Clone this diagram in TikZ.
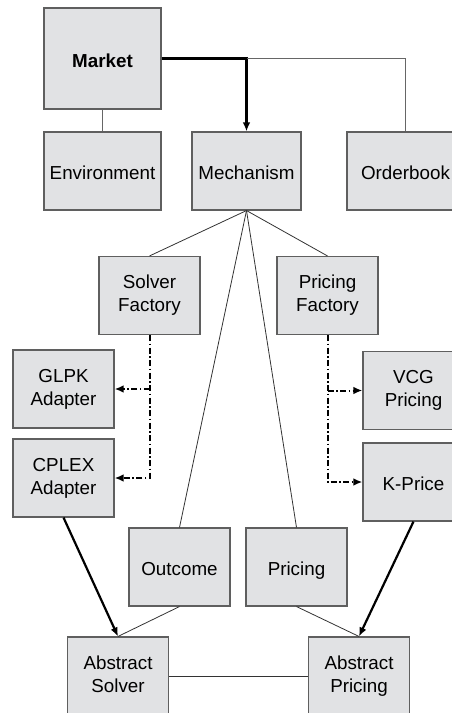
\documentclass[tikz,border=0pt]{standalone}
\usepackage{fontspec}
\setmainfont{Liberation Sans}
\usetikzlibrary{arrows.meta}
\definecolor{boxfill}{RGB}{225,226,228}
\definecolor{boxline}{RGB}{95,95,95}
\newcommand\modstrut{\rule[-4pt]{0pt}{25pt}}

\begin{document}
\begin{tikzpicture}[x=1pt,y=-1pt,
  module/.style={draw=boxline,fill=boxfill,line width=1.1pt,minimum width=101pt,minimum height=78pt,inner sep=0pt,align=center,font=\fontsize{18.8}{23}\selectfont,execute at begin node=\modstrut,execute at end node=\modstrut},
  link/.style={draw=black!80,line width=0.8pt},
  uses/.style={line width=2.2pt,-{Latex[length=9pt,width=7.5pt]}},
  creates/.style={line width=2pt,dash pattern=on 6pt off 2.5pt on 1.5pt off 2.5pt,-{Latex[length=9pt,width=7.5pt]}}]
\useasboundingbox (0,0) rectangle (452,713);

\node [module,minimum width=117pt,minimum height=101pt,font=\fontsize{18.8}{23}\selectfont\bfseries] (market) at (102.5,58.5) {Market};
\node [module,minimum width=117pt] (env) at (102.5,171) {Environment};
\node [module,minimum width=109pt] (mech) at (246.5,171) {Mechanism};
\node [module,minimum width=117pt] (order) at (405.5,171) {Orderbook};

\node [module] (sfact) at (149.5,295.5) {Solver\\Factory};
\node [module] (pfact) at (327.5,295.5) {Pricing\\Factory};
\node [module] (glpk) at (63.5,389) {GLPK\\Adapter};
\node [module] (vcg) at (413.5,390.5) {VCG\\Pricing};
\node [module] (cplex) at (63.5,478) {CPLEX\\Adapter};
\node [module] (kprice) at (413.5,482) {K-Price};

\node [module] (outcome) at (179.5,567) {Outcome};
\node [module] (pricing) at (296.5,567) {Pricing};
\node [module] (asolver) at (118,676) {Abstract\\Solver};
\node [module] (apricing) at (359,676) {Abstract\\Pricing};

\coordinate (split) at (mech.north |- market.east);

\draw [link,draw=black!60] (market) -- (env);
\draw [uses] (market.east) -- (split) -- (mech.north);
\draw [link,draw=black!60] (split) -| (order.north);

\draw [link] (mech.south) -- (sfact.north);
\draw [link] (mech.south) -- (pfact.north);
\draw [link] (mech.south) -- (outcome.north);
\draw [link] (mech.south) -- (pricing.north);

\draw [creates] (sfact.south) |- (cplex.east);
\draw [creates] (sfact.south |- glpk.east) -- (glpk.east);
\draw [creates] (pfact.south) |- (kprice.west);
\draw [creates] (pfact.south |- vcg.west) -- (vcg.west);

\draw [uses] (cplex.south) -- (asolver.north);
\draw [uses] (kprice.south) -- (apricing.north);
\draw [link] (outcome.south) -- (asolver.north);
\draw [link] (pricing.south) -- (apricing.north);
\draw [link] (asolver) -- (apricing);
\end{tikzpicture}
\end{document}
